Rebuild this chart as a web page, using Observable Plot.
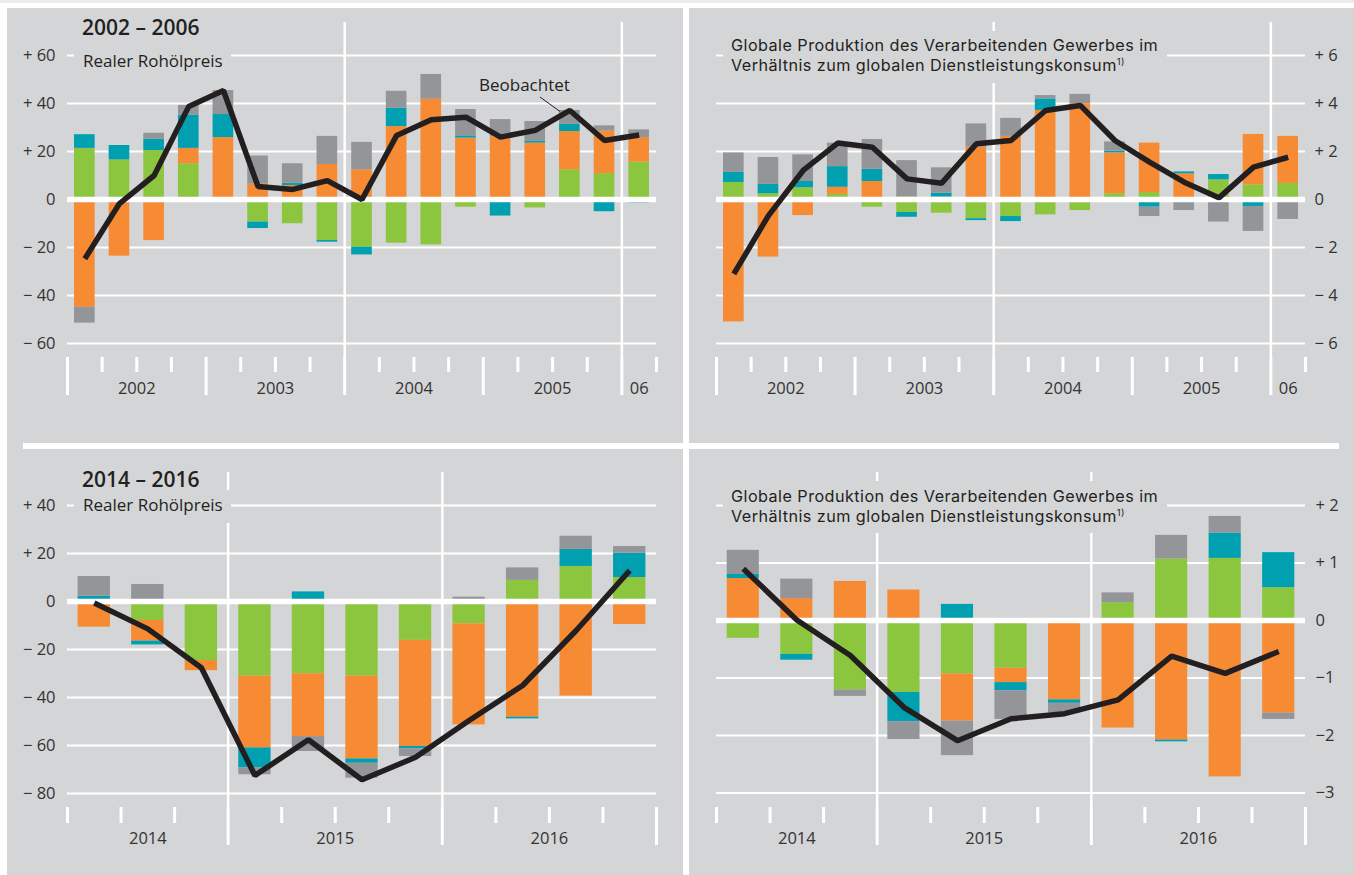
<!DOCTYPE html>
<html lang="de"><head><meta charset="utf-8">
<script src="https://cdn.jsdelivr.net/npm/d3@7"></script>
<script src="https://cdn.jsdelivr.net/npm/@observablehq/plot@0.6"></script>
<style>
html,body{margin:0;padding:0}
body{width:1354px;height:875px;position:relative;background:#fff;overflow:hidden;font-family:"Open Sans",sans-serif;color:#231f20}
.abs{position:absolute}
.bg{background:#d4d5d7}
.txt{position:absolute;white-space:nowrap;background:#d4d5d7;color:#231f20}
.ln{display:block;height:20px;line-height:20px}
.sup{font-size:9.5px;position:relative;top:-6px;line-height:0}
</style></head><body>
<div class="abs" style="left:0;top:0;width:1354px;height:3px;background:#ebebeb"></div>
<div class="abs bg" style="left:7px;top:8px;width:676px;height:435px"></div>
<div class="abs bg" style="left:689px;top:8px;width:665px;height:435px"></div>
<div class="abs bg" style="left:7px;top:449px;width:676px;height:426px"></div>
<div class="abs bg" style="left:689px;top:449px;width:665px;height:426px"></div>
<div class="abs bg" style="left:7px;top:443px;width:16px;height:6px"></div>
<div class="abs bg" style="left:1339px;top:443px;width:15px;height:6px"></div>
<script>
// ---------- data ----------
const seriesNames = ["Komponente A", "Komponente B", "Komponente C", "Komponente D"];
const seriesColors = ["#8cc63f", "#f68b33", "#00a0b1", "#939598"];

const quartersTop = ["2002 Q1","2002 Q2","2002 Q3","2002 Q4","2003 Q1","2003 Q2","2003 Q3","2003 Q4",
  "2004 Q1","2004 Q2","2004 Q3","2004 Q4","2005 Q1","2005 Q2","2005 Q3","2005 Q4","2006 Q1"];
const quartersBottom = ["2014 Q2","2014 Q3","2014 Q4","2015 Q1","2015 Q2","2015 Q3","2015 Q4",
  "2016 Q1","2016 Q2","2016 Q3","2016 Q4"];
const yearLabelsTop = ["2002", "2003", "2004", "2005", "06"];
const yearLabelsBottom = ["2014", "2015", "2016"];
const gridYearsTop = ["2004", "2006"];
const gridYearsBottom = ["2015", "2016"];

// Panel 1: Realer Rohölpreis 2002–2006
const oil1Green  = [21.3, 16.5, 20.4, 14.9, 0, -9.4, -10.1, -17.1, -19.9, -18.2, -18.9, -3.2, 0, -3.5, 12.4, 10.8, 15.6];
const oil1Orange = [-44.9, -23.6, -17.1, 6.4, 25.8, 6.4, 5.8, 14.6, 12.4, 30.4, 41.8, 25.6, 26.2, 23.5, 15.9, 17.7, 10.2];
const oil1Teal   = [5.7, 6.0, 4.7, 13.9, 9.6, -2.7, 1.0, -0.7, -3.2, 7.7, 0, 0.9, -6.9, 0.7, 3.0, -5.1, -1.4];
const oil1Gray   = [-6.6, 0, 2.5, 4.0, 10.0, 11.7, 8.1, 11.7, 11.4, 7.0, 10.3, 11.0, 7.1, 8.3, 5.8, 2.2, 3.2];
const oil1Obs    = [-24.7, -1.7, 10.0, 38.8, 45.4, 5.4, 4.2, 7.9, 0, 26.7, 33.2, 34.3, 26.0, 28.8, 37.1, 24.6, 26.9];

// Panel 2: Produktion/Dienstleistungskonsum 2002–2006
const man1Green  = [0.71, 0.24, 0.49, 0.21, -0.32, -0.54, -0.57, -0.80, -0.71, -0.64, -0.46, 0.24, 0.29, 0, 0.82, 0.61, 0.67];
const man1Orange = [-5.10, -2.40, -0.67, 0.30, 0.75, 0.10, 0.10, 2.18, 2.63, 3.71, 3.99, 1.70, 2.06, 1.07, 0, 2.10, 1.96];
const man1Teal   = [0.42, 0.39, 0.26, 0.86, 0.51, -0.20, 0.16, -0.08, -0.21, 0.48, 0, 0.07, -0.32, 0.08, 0.22, -0.29, 0];
const man1Gray   = [0.81, 1.12, 1.11, 0.98, 1.24, 1.52, 1.06, 0.97, 0.75, 0.14, 0.39, 0.39, -0.39, -0.46, -0.94, -1.04, -0.83];
const man1Obs    = [-3.10, -0.67, 1.21, 2.35, 2.18, 0.86, 0.68, 2.32, 2.46, 3.71, 3.92, 2.46, 1.56, 0.72, 0.07, 1.35, 1.76];

// Panel 3: Realer Rohölpreis 2014–2016
const oil2Green  = [0, -7.9, -24.6, -31.1, -30.1, -31.1, -16.2, -9.3, 8.8, 14.6, 10.0];
const oil2Orange = [-10.7, -8.6, -4.2, -29.9, -26.2, -34.5, -44.2, -42.1, -48.2, -39.4, -9.6];
const oil2Teal   = [2.2, -1.6, 0, -8.3, 4.0, -1.8, -1.0, 0, -0.7, 7.1, 10.1];
const oil2Gray   = [8.2, 7.1, 0, -2.9, -6.2, -6.2, -3.2, 1.8, 5.2, 5.5, 2.8];
const oil2Obs    = [-0.6, -11.4, -27.6, -72.5, -57.6, -74.3, -64.9, -49.6, -35.0, -12.1, 12.9];

// Panel 4: Produktion/Dienstleistungskonsum 2014–2016
const man2Green  = [-0.31, -0.59, -1.21, -1.25, -0.93, -0.83, 0, 0.31, 1.07, 1.08, 0.57];
const man2Orange = [0.73, 0.38, 0.68, 0.53, -0.82, -0.25, -1.38, -1.87, -2.08, -2.72, -1.61];
const man2Teal   = [0.07, -0.10, 0, -0.51, 0.28, -0.14, -0.06, 0, -0.03, 0.44, 0.61];
const man2Gray   = [0.42, 0.34, -0.11, -0.31, -0.60, -0.50, -0.17, 0.17, 0.41, 0.29, -0.11];
const man2Obs    = [0.90, 0.01, -0.61, -1.51, -2.09, -1.71, -1.62, -1.38, -0.62, -0.92, -0.54];

const ticksOil1 = [-60, -40, -20, 0, 20, 40, 60];
const ticksMan1 = [-6, -4, -2, 0, 2, 4, 6];
const ticksOil2 = [-80, -60, -40, -20, 0, 20, 40];
const ticksMan2 = [-3, -2, -1, 0, 1, 2];

// ---------- drawing ----------
const fmtSigned = d => d > 0 ? "+ " + d : d < 0 ? "\u2212 " + (-d) : "0";
const fmtSignedTight = d => d > 0 ? "+ " + d : d < 0 ? "\u2212" + (-d) : "0";

function panel(cfg) {
  const q = cfg.quarters, n = q.length;
  const rows = [];
  q.forEach((quarter, i) => cfg.series.forEach((arr, k) =>
    rows.push({i, quarter, series: seriesNames[k], value: arr[i]})));
  const isYearBound = i => (i < n && q[i].endsWith("Q1")) || (i === n && q[n - 1].endsWith("Q4"));
  const bounds = d3.range(n + 1);
  const longTicks = bounds.filter(isYearBound);
  const shortTicks = bounds.filter(i => !isYearBound(i));
  const years = d3.groups(q.map((s, i) => ({y: s.slice(0, 4), i})), d => d.y)
    .map(([y, arr], k) => ({label: cfg.yearLabels[k], x: (arr[0].i + arr[arr.length - 1].i + 1) / 2}));
  const vlines = cfg.gridYears.map(y => q.indexOf(y + " Q1"));
  const plot = Plot.plot({
    width: cfg.w, height: cfg.h,
    marginLeft: cfg.ml, marginRight: cfg.mr, marginTop: cfg.mt, marginBottom: cfg.mb,
    x: {domain: [0, n], range: [cfg.ml, cfg.w - cfg.mr]},
    y: {domain: cfg.yDomain, range: cfg.yRange},
    color: {domain: seriesNames, range: seriesColors},
    style: {fontFamily: "'Open Sans', sans-serif", fontSize: "16px", background: "none", color: "#333", overflow: "visible"},
    marks: [
      Plot.ruleY(cfg.yTicks.filter(d => d !== 0), {stroke: "white", strokeWidth: 2}),
      Plot.ruleX(vlines, {stroke: "white", strokeWidth: 2.5}),
      Plot.axisX(shortTicks, {anchor: "bottom", tickSize: cfg.shortTick, stroke: "white", strokeWidth: 3, tickFormat: () => "", label: null}),
      Plot.axisX(longTicks, {anchor: "bottom", tickSize: 38, stroke: "white", strokeWidth: 3, tickFormat: () => "", label: null}),
      Plot.axisY(cfg.yTicks, {anchor: cfg.yAnchor, tickSize: 0, tickPadding: cfg.pad, tickFormat: cfg.fmt, fill: "#333", fontSize: 16.5, label: null}),
      Plot.text(years, {x: "x", text: "label", frameAnchor: "bottom", dy: 31, lineAnchor: "middle", fill: "#333", fontSize: 16.5}),
      Plot.rectY(rows, Plot.stackY({x1: d => d.i, x2: d => d.i + 1, y: "value", fill: "series",
        insetLeft: cfg.inset, insetRight: cfg.inset})),
      Plot.ruleY([0], {stroke: "white", strokeWidth: 5.5}),
      Plot.line(cfg.obs, {x: (d, i) => i + 0.5, y: d => d, stroke: "#231f20", strokeWidth: 5.5,
        strokeLinejoin: "miter", strokeLinecap: "butt"})
    ]
  });
  const holder = document.createElement("div");
  holder.className = "abs";
  holder.style.left = cfg.left + "px";
  holder.style.top = cfg.top + "px";
  holder.appendChild(plot);
  document.body.appendChild(holder);
}

panel({quarters: quartersTop, yearLabels: yearLabelsTop, gridYears: gridYearsTop,
  series: [oil1Green, oil1Orange, oil1Teal, oil1Gray], obs: oil1Obs, yTicks: ticksOil1,
  yDomain: [-60, 60], yRange: [335, 47], left: 7, top: 8, w: 676, h: 435,
  ml: 60, mr: 27, mt: 14, mb: 86, yAnchor: "left", pad: 12, fmt: fmtSigned, inset: 7, shortTick: 15});
panel({quarters: quartersTop, yearLabels: yearLabelsTop, gridYears: gridYearsTop,
  series: [man1Green, man1Orange, man1Teal, man1Gray], obs: man1Obs, yTicks: ticksMan1,
  yDomain: [-6, 6], yRange: [335, 47], left: 689, top: 8, w: 665, h: 435,
  ml: 27, mr: 49, mt: 14, mb: 86, yAnchor: "right", pad: 9, fmt: fmtSigned, inset: 7, shortTick: 15});
panel({quarters: quartersBottom, yearLabels: yearLabelsBottom, gridYears: gridYearsBottom,
  series: [oil2Green, oil2Orange, oil2Teal, oil2Gray], obs: oil2Obs, yTicks: ticksOil2,
  yDomain: [-80, 40], yRange: [344, 56], left: 7, top: 449, w: 676, h: 426,
  ml: 60, mr: 27, mt: 23, mb: 68, yAnchor: "left", pad: 12, fmt: fmtSigned, inset: 10.6, shortTick: 16});
panel({quarters: quartersBottom, yearLabels: yearLabelsBottom, gridYears: gridYearsBottom,
  series: [man2Green, man2Orange, man2Teal, man2Gray], obs: man2Obs, yTicks: ticksMan2,
  yDomain: [-3, 2], yRange: [343.5, 56], left: 689, top: 449, w: 665, h: 426,
  ml: 27, mr: 49, mt: 23, mb: 68, yAnchor: "right", pad: 10, fmt: fmtSignedTight, inset: 10.7, shortTick: 16});

// ---------- text overlays ----------
function label(html, css) {
  const d = document.createElement("div");
  d.className = "txt";
  d.innerHTML = html;
  Object.assign(d.style, css);
  document.body.appendChild(d);
  return d;
}
label("2002 \u2013 2006", {left: "82px", top: "15px", fontSize: "21px", lineHeight: "24px", fontWeight: "600", background: "none"});
label("Realer Rohölpreis", {left: "74px", top: "47.5px", fontSize: "17px", lineHeight: "20px", fontWeight: "500", padding: "3px 8px 4px 9px"});
label("2014 \u2013 2016", {left: "82px", top: "466.5px", fontSize: "21px", lineHeight: "24px", fontWeight: "600", background: "none"});
label("Realer Rohölpreis", {left: "74px", top: "490px", fontSize: "17px", lineHeight: "20px", fontWeight: "500", padding: "5.3px 8px 7.7px 9px"});
const t2 = "<span class='ln'>Globale Produktion des Verarbeitenden Gewerbes im</span><span class='ln'>Verhältnis zum globalen Dienstleistungskonsum<span class='sup'>1)</span></span>";
const titleCss = {fontFamily: "Inter, 'Open Sans', sans-serif", fontSize: "16.2px", lineHeight: "20px", fontWeight: "400", letterSpacing: "0.45px"};
label(t2, Object.assign({left: "723px", top: "31px", padding: "4px 9px 8px 8px"}, titleCss));
label(t2, Object.assign({left: "723px", top: "481px", padding: "4.7px 9px 7.3px 8px"}, titleCss));
label("Beobachtet", {left: "479px", top: "75.3px", fontSize: "17px", lineHeight: "20px", fontWeight: "500", background: "none"});
const lead = document.createElementNS("http://www.w3.org/2000/svg", "svg");
lead.setAttribute("width", "1354"); lead.setAttribute("height", "875");
lead.setAttribute("style", "position:absolute;left:0;top:0;pointer-events:none");
lead.innerHTML = '<line x1="540" y1="97" x2="560" y2="111.5" stroke="#231f20" stroke-width="1"/>';
document.body.appendChild(lead);
</script>
</body></html>
